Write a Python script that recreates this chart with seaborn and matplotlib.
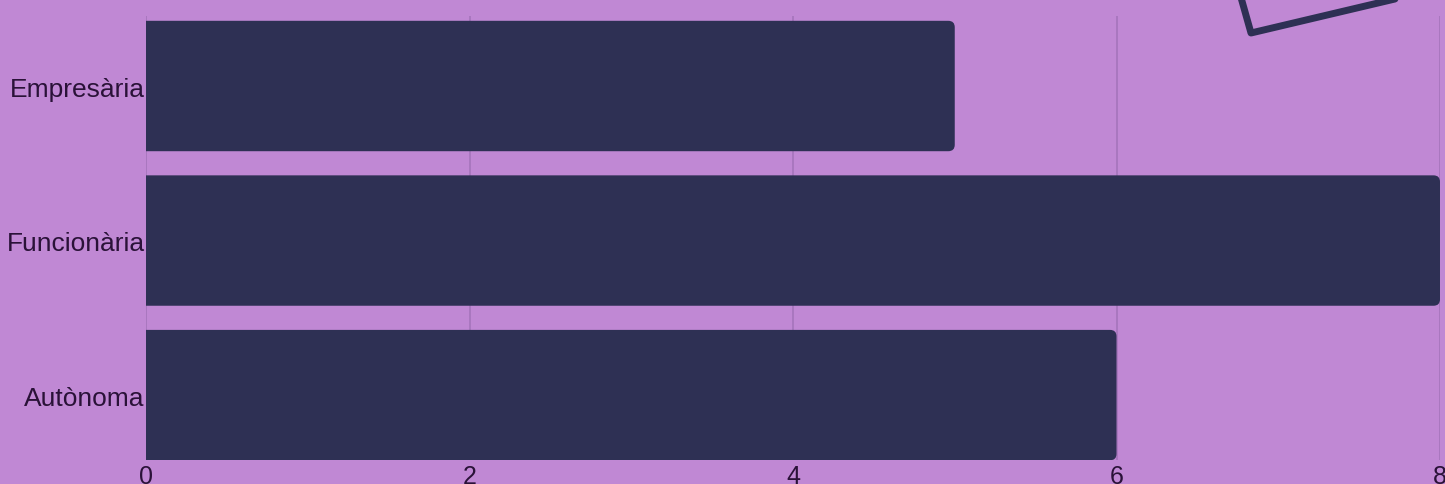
import matplotlib
matplotlib.use("Agg")
import matplotlib.pyplot as plt
import seaborn as sns
import pandas as pd
from matplotlib.patches import FancyBboxPatch
from matplotlib.lines import Line2D

# --- data ---
categorias = ["Empresària", "Funcionària", "Autònoma"]
valores = [5, 8, 6]
xticks = [0, 2, 4, 6, 8]

bg = "#c088d4"
bar_color = "#2e3054"
grid_color = "#a574bb"
text_color = "#2a1238"

df = pd.DataFrame({"categoria": categorias, "valor": valores})

sns.set_style("white")
plt.rcParams["font.family"] = ["Liberation Sans", "DejaVu Sans"]

fig = plt.figure(figsize=(14.45, 4.85), dpi=100, facecolor=bg)
ax = fig.add_axes([146 / 1445, 1 - 461 / 485, (1440 - 146) / 1445, 444 / 485])
ax.set_facecolor(bg)

sns.barplot(data=df, x="valor", y="categoria", color=bar_color,
            width=0.84, saturation=1, ax=ax, zorder=2)

ax.set_xlim(0, 8)
ax.set_ylim(2.42, -0.453)

# swap plain bars for rounded ones (left edge pushed past 0 so it gets clipped square)
r = 0.04
for p in list(ax.patches):
    x0, y0 = p.get_x(), p.get_y()
    w, h = p.get_width(), p.get_height()
    rb = FancyBboxPatch((x0 - 0.2, y0 + r), w + 0.2 - r, h - 2 * r,
                        boxstyle=f"round,pad={r}", mutation_aspect=161.75 / 154.5,
                        facecolor=bar_color, edgecolor="none", zorder=2)
    ax.add_patch(rb)
    p.remove()

ax.set_xticks(xticks)
ax.set_xticklabels([str(t) for t in xticks])
ax.xaxis.grid(True, color=grid_color, linewidth=1.2, zorder=0)
ax.set_axisbelow(True)
ax.tick_params(axis="x", length=0, labelsize=18, colors=text_color, pad=3)
ax.tick_params(axis="y", length=0, labelsize=19, colors=text_color, pad=1)
ax.set_xlabel("")
ax.set_ylabel("")
for s in ax.spines.values():
    s.set_visible(False)

# decorative outline in the top right corner
fig.add_artist(Line2D([1240 / 1445, 1251 / 1445, 1450 / 1445],
                      [1 + 5 / 485, 1 - 34 / 485, 1 + 13 / 485],
                      color=bar_color, linewidth=5, solid_joinstyle="round",
                      transform=fig.transFigure))

fig.savefig("out.png", dpi=100, facecolor=bg)
